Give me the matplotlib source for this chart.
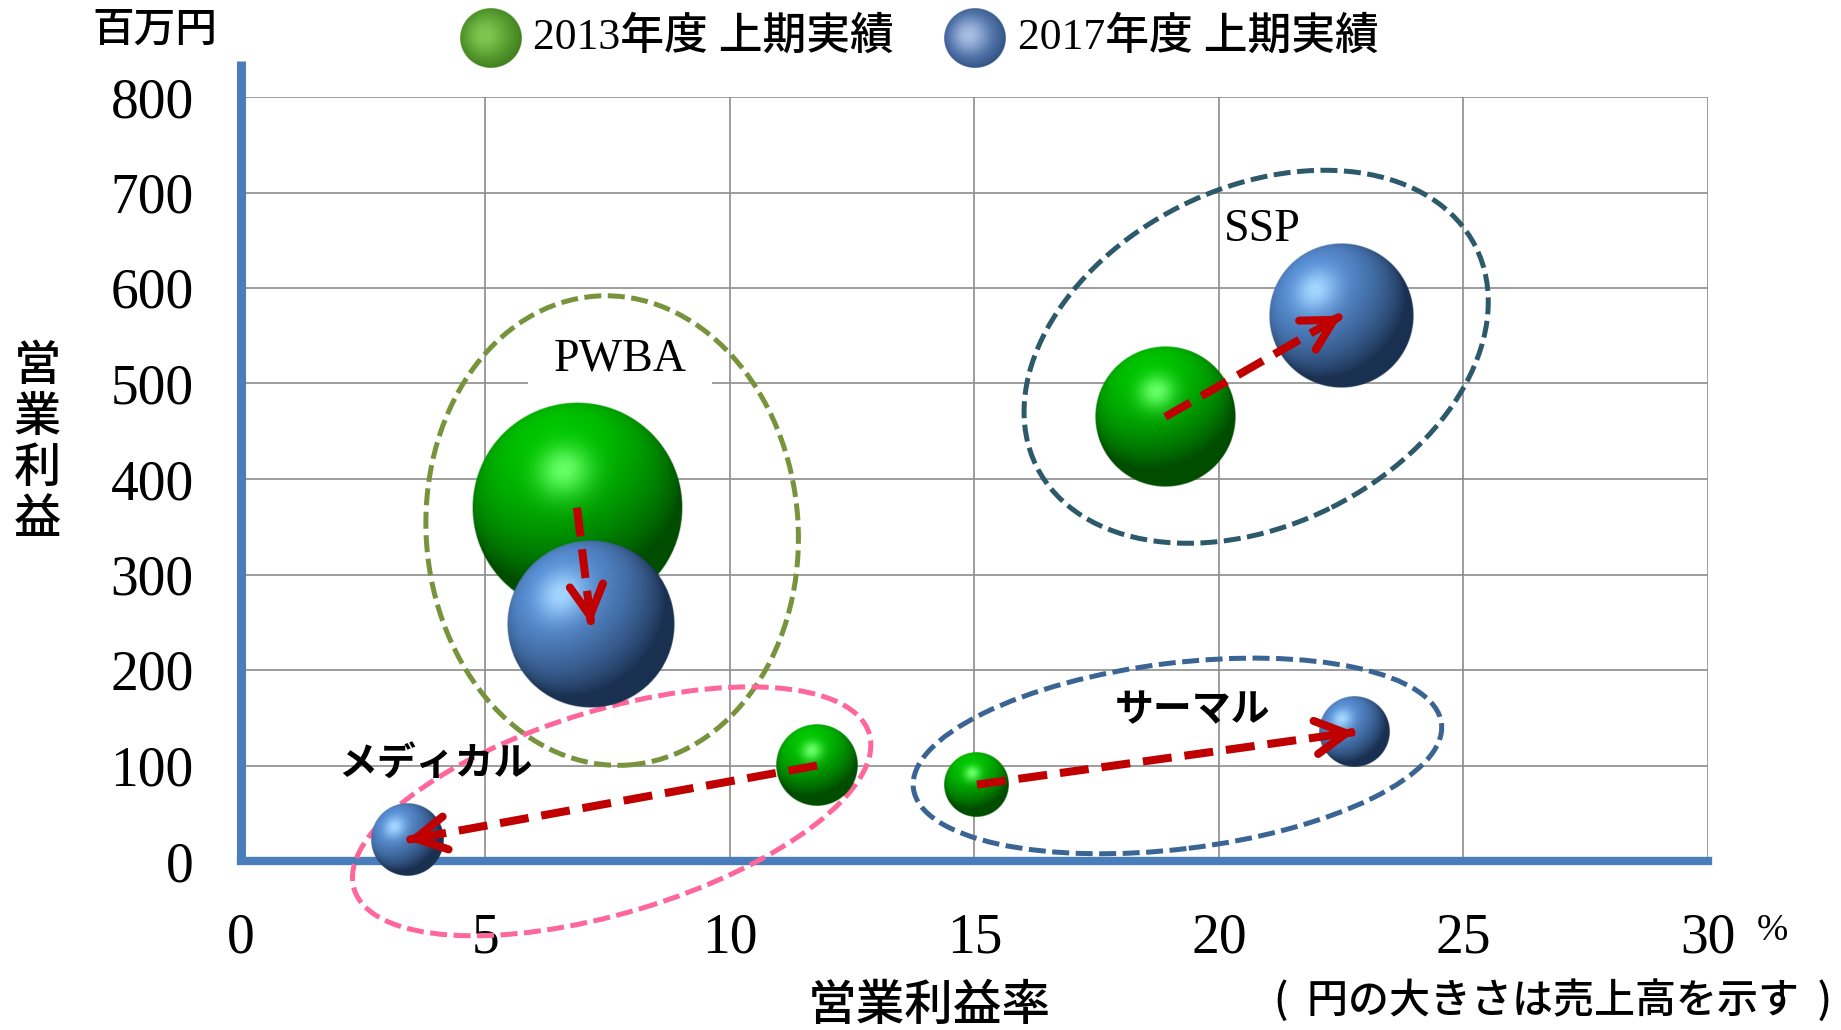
import numpy as np
import matplotlib
matplotlib.use('Agg')
import matplotlib.pyplot as plt
from matplotlib.patches import Ellipse, FancyArrowPatch
from matplotlib.transforms import IdentityTransform, ScaledTranslation

plt.rcParams['font.family'] = ['Noto Sans CJK JP', 'DejaVu Sans']
plt.rcParams['font.weight'] = 'medium'

# 事業セグメント別 上期実績（営業利益率 %, 営業利益 百万円, 売上高）
segments = ['PWBA', 'SSP', 'サーマル', 'メディカル']
margin_2013 = [6.87, 18.9, 15.05, 11.78]
profit_2013 = [370, 465, 80, 100]
sales_2013 = [3240, 1440, 310, 490]
margin_2017 = [7.16, 22.5, 22.77, 3.4]
profit_2017 = [248, 571, 135, 22]
sales_2017 = [2070, 1540, 360, 385]

x_ticks = [0, 5, 10, 15, 20, 25, 30]
y_ticks = [0, 100, 200, 300, 400, 500, 600, 700, 800]
legend_labels = ['2013年度 上期実績', '2017年度 上期実績']

W, H = 1841, 1030
serif = ['Liberation Serif', 'Noto Sans CJK JP']
axis_blue = '#4A7EBB'
arrow_red = '#C00000'

fig = plt.figure(figsize=(W / 100, H / 100), dpi=100)

# 図全体のピクセル座標用（凡例・軸タイトル）
ax_o = fig.add_axes([0, 0, 1, 1], zorder=-1)
ax_o.set_xlim(0, W)
ax_o.set_ylim(H, 0)
ax_o.axis('off')

ax = fig.add_axes([241 / W, 1 - 861 / H, (1708 - 241) / W, (861 - 97) / H])
ax.set_xlim(0, 30)
ax.set_ylim(0, 800)
ax.set_autoscale_on(False)

ax.set_xticks(x_ticks)
ax.set_xticklabels([str(v) for v in x_ticks], family=serif, fontsize=40)
ax.set_yticks(y_ticks)
ax.set_yticklabels([str(v) for v in y_ticks], family=serif, fontsize=40)
ax.tick_params(axis='x', length=0, pad=37)
ax.tick_params(axis='y', length=0, pad=34)
ax.grid(True, color='#8C8C8C', lw=1.2)
ax.set_axisbelow(True)
for s in ['top', 'right', 'left']:
    ax.spines[s].set_visible(False)
ax.spines['bottom'].set_color(axis_blue)
ax.spines['bottom'].set_linewidth(6)
ax.plot([0, 0], [0, 1.047], transform=ax.transAxes, clip_on=False,
        color=axis_blue, lw=6.5, solid_capstyle='butt', zorder=5)


def sphere_rgba(base, dark, hl, light, spot, power=30, amb=0.15, n=300):
    t = np.linspace(-1, 1, n)
    xx, yy = np.meshgrid(t, t)
    rr = np.sqrt(xx ** 2 + yy ** 2)
    zz = np.sqrt(np.clip(1 - rr ** 2, 0, 1))
    L = np.array(light, float)
    L = L / np.linalg.norm(L)
    diff = np.clip(xx * L[0] + yy * L[1] + zz * L[2], 0, 1)
    sx, sy = spot
    sz = np.sqrt(1 - sx ** 2 - sy ** 2)
    spec = np.clip(xx * sx + yy * sy + zz * sz, 0, 1) ** power
    base, dark, hl = np.array(base), np.array(dark), np.array(hl)
    shade = (amb + (1 - amb) * diff)[..., None]
    col = dark + (base - dark) * shade
    col = col + (hl - col) * spec[..., None]
    alpha = np.clip((1 - rr) * n / 2, 0, 1)
    return np.dstack([np.clip(col, 0, 1), alpha])


green_ball = sphere_rgba((0.0, 0.78, 0.0), (0.0, 0.22, 0.0), (0.4, 1.0, 0.4),
                         (-0.24, 0.66, 0.69), (-0.13, 0.36))
blue_ball = sphere_rgba((0.36, 0.58, 0.86), (0.06, 0.12, 0.22), (0.64, 0.84, 1.0),
                        (-0.45, 0.5, 0.74), (-0.36, 0.36), power=22)
green_key = sphere_rgba((0.36, 0.64, 0.2), (0.18, 0.4, 0.06), (0.5, 0.78, 0.32),
                        (-0.2, 0.2, 0.95), (-0.2, 0.1), power=6, amb=0.4)
blue_key = sphere_rgba((0.34, 0.48, 0.7), (0.1, 0.22, 0.4), (0.66, 0.74, 0.88),
                       (-0.2, 0.2, 0.95), (-0.2, 0.1), power=6, amb=0.4)

k = 1.845  # 売上高 → 半径(px)


def draw_ball(x, y, sales, img, z):
    r = k * np.sqrt(sales)
    trans = IdentityTransform() + ScaledTranslation(x, y, ax.transData)
    ax.imshow(img, extent=(-r, r, -r, r), transform=trans, origin='lower',
              aspect='auto', interpolation='bilinear', zorder=z, clip_on=False)


# グループを囲む点線の楕円
groups = [
    dict(x=7.59, y=346, w=372, h=470, angle=4, color='#77933C'),
    dict(x=20.76, y=528, w=491, h=337, angle=26.6, color='#2D5A6B'),
    dict(x=19.15, y=110, w=532, h=186, angle=7, color='#3A6493'),
    dict(x=7.58, y=52, w=538, h=203, angle=16.8, color='#FF6699'),
]
for g in groups:
    trans = IdentityTransform() + ScaledTranslation(g['x'], g['y'], ax.transData)
    e = Ellipse((0, 0), g['w'], g['h'], angle=g['angle'], transform=trans,
                fill=False, ec=g['color'], lw=3.6, ls=(0, (3.4, 1.3)),
                zorder=3, clip_on=False)
    ax.add_patch(e)

for i in range(len(segments)):
    draw_ball(margin_2013[i], profit_2013[i], sales_2013[i], green_ball, 4)
for i in range(len(segments)):
    draw_ball(margin_2017[i], profit_2017[i], sales_2017[i], blue_ball, 4.5)

# 2013 → 2017 の矢印
for i in range(len(segments)):
    x0, y0 = margin_2013[i], profit_2013[i]
    x1, y1 = margin_2017[i], profit_2017[i]
    ax.plot([x0, x1], [y0, y1], color=arrow_red, lw=5.8, dashes=(3.6, 1.6),
            dash_capstyle='butt', zorder=6, clip_on=False)
    p0 = ax.transData.transform((x0, y0))
    p1 = ax.transData.transform((x1, y1))
    u = (p1 - p0) / np.linalg.norm(p1 - p0)
    q = ax.transData.inverted().transform(p1 - 3 * u)
    ax.add_patch(FancyArrowPatch(tuple(q), (x1, y1),
                                 arrowstyle='->,head_length=2.2,head_width=1.2',
                                 mutation_scale=10, lw=5.8, color=arrow_red,
                                 shrinkA=0, shrinkB=0, capstyle='round',
                                 joinstyle='round', zorder=7, clip_on=False))

# セグメント名
ax.text(7.75, 514, segments[0], family=serif, fontsize=33, ha='center', va='baseline',
        bbox=dict(boxstyle='square,pad=0.55', fc='white', ec='none'), zorder=2)
ax.text(20.89, 649, segments[1], family=serif, fontsize=33, ha='center', va='baseline', zorder=8)
ax.text(19.45, 158, segments[2], fontsize=28, weight='bold', ha='center', va='center', zorder=8)
ax.text(3.97, 102, segments[3], fontsize=28, weight='bold', ha='center', va='center', zorder=8)

# 凡例
for cx, img, lab, tx in [(491, green_key, legend_labels[0], 533),
                          (975, blue_key, legend_labels[1], 1018)]:
    ax_o.imshow(img, extent=(cx - 31, cx + 31, 38 + 30, 38 - 30), origin='lower',
                aspect='auto', interpolation='bilinear')
    ax_o.text(tx, 37, lab, family=serif, fontsize=31.5, ha='left', va='center')
ax_o.set_xlim(0, W)
ax_o.set_ylim(H, 0)

# 軸タイトル・注記
ax_o.text(155, 29, '百万円', fontsize=30, ha='center', va='center')
ax_o.text(37.5, 443, '\n'.join('営業利益'), fontsize=34, ha='center', va='center',
          linespacing=1.05)
ax_o.text(929, 1006, '営業利益率', fontsize=35, ha='center', va='center')
ax_o.text(1832, 1000, '(  円の大きさは売上高を示す  )', fontsize=29.5, ha='right', va='center')
ax_o.text(1772, 931, '%', family=serif, fontsize=27, ha='center', va='center')

fig.savefig('out.png', dpi=100, facecolor='white')
